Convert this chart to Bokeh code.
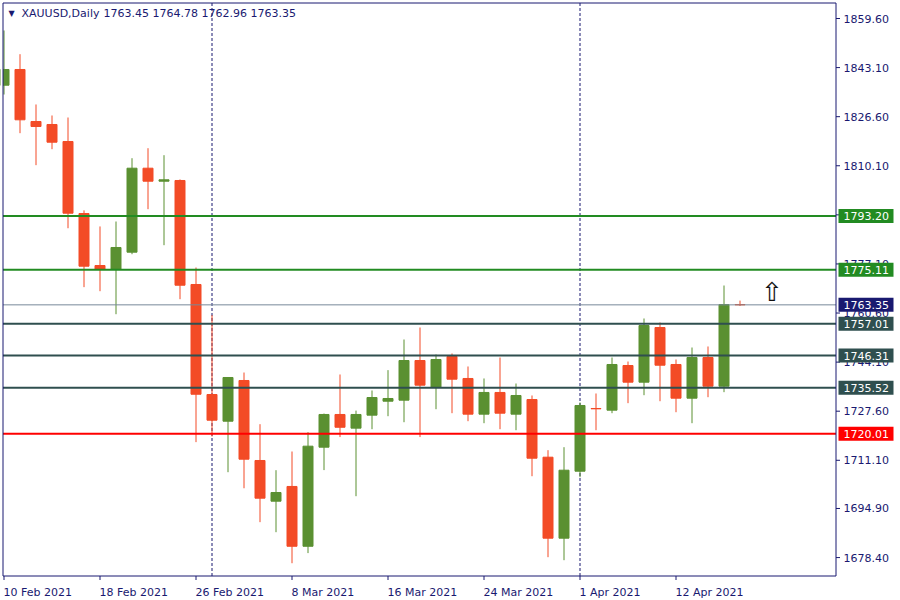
from bokeh.plotting import figure
from bokeh.models import ColumnDataSource, Range1d
from bokeh.core.properties import value
from bokeh.embed import file_html
from bokeh.resources import INLINE

# ---------------- data ----------------
OPEN = [1837.18, 1842.46, 1824.98, 1823.97, 1818.26, 1794.05, 1776.57, 1775.33, 1781.05, 1809.28,
        1804.91, 1805.15, 1770.19, 1733.21, 1724.24, 1737.92, 1711.03, 1697.35, 1702.30, 1682.20,
        1715.50, 1726.50, 1721.90, 1726.26, 1730.96, 1731.30, 1744.64, 1735.67, 1746.00, 1738.60,
        1726.60, 1733.90, 1726.60, 1731.53, 1712.14, 1684.91, 1707.43, 1728.51, 1727.94, 1742.96,
        1737.35, 1755.73, 1743.30, 1731.97, 1745.65, 1736.00, 1763.45]
HIGH = [1855.57, 1847.60, 1830.70, 1827.00, 1826.32, 1795.10, 1789.70, 1791.36, 1812.64, 1816.00,
        1813.65, 1805.50, 1775.90, 1759.87, 1738.93, 1740.60, 1723.23, 1707.77, 1714.05, 1720.54,
        1726.80, 1739.94, 1727.80, 1734.56, 1741.40, 1751.70, 1755.73, 1746.66, 1747.00, 1742.63,
        1738.60, 1745.65, 1736.91, 1732.88, 1714.50, 1715.50, 1730.52, 1733.55, 1745.65, 1744.30,
        1758.76, 1757.42, 1744.98, 1749.01, 1749.35, 1769.85, 1764.78]
LOW = [1834.05, 1821.05, 1810.30, 1815.67, 1789.10, 1769.30, 1767.94, 1760.20, 1780.37, 1795.50,
       1783.40, 1765.25, 1717.20, 1719.10, 1707.10, 1701.70, 1690.30, 1686.93, 1676.50, 1679.90,
       1707.80, 1718.90, 1699.03, 1721.55, 1725.92, 1723.90, 1718.90, 1728.27, 1726.93, 1724.24,
       1723.57, 1721.55, 1721.21, 1705.75, 1678.53, 1677.52, 1705.42, 1721.21, 1726.93, 1730.30,
       1732.98, 1730.96, 1727.26, 1723.57, 1732.31, 1734.00, 1762.96]
CLOSE = [1842.46, 1825.55, 1823.30, 1818.02, 1794.15, 1776.34, 1775.23, 1782.63, 1809.28, 1804.91,
         1805.38, 1769.95, 1733.30, 1724.57, 1738.93, 1711.47, 1698.36, 1700.27, 1682.20, 1715.84,
         1726.50, 1722.20, 1726.50, 1732.20, 1731.87, 1744.64, 1736.34, 1744.98, 1738.36, 1726.60,
         1733.90, 1726.93, 1732.88, 1711.80, 1684.91, 1707.77, 1729.52, 1728.40, 1743.30, 1737.35,
         1756.41, 1743.06, 1731.97, 1745.65, 1736.00, 1763.45, 1763.35]

DATE_TICKS = [0, 6, 12, 18, 24, 30, 36, 42]
DATE_LABELS = ["10 Feb 2021", "18 Feb 2021", "26 Feb 2021", "8 Mar 2021",
               "16 Mar 2021", "24 Mar 2021", "1 Apr 2021", "12 Apr 2021"]
MONTH_SEPARATORS = [13, 36]

PRICE_TICKS = [1859.60, 1843.10, 1826.60, 1810.10, 1793.60, 1777.10, 1760.60,
               1744.10, 1727.60, 1711.10, 1694.90, 1678.40]

LEVELS = [1793.20, 1775.11, 1757.01, 1746.31, 1735.52, 1720.01]
LEVEL_COLORS = ["#228B22", "#228B22", "#2F4F4F", "#2F4F4F", "#2F4F4F", "#FF0000"]
BID = 1763.35

SYMBOL = "XAUUSD,Daily"
HEADER_VALUES = "1763.45 1764.78 1762.96 1763.35"

ARROW_X = 48
ARROW_Y = 1767.5

# ---------------- style / layout (pixels) ----------------
NAVY = "#191970"
BULL = "#5A9031"
BEAR = "#F34B26"
BID_COLOR = "#778899"
FONT = value("DejaVu Sans")
FS = "11px"

W, H = 900, 600
PX_PER_BAR = 16.0
PX_PER_UNIT = 2.975
BAR0_PX = 3.5          # screen x of bar 0 centre
TICK0_PX = 18.0        # screen y of first price tick
CHART_L, CHART_T, CHART_R, CHART_B = 2.5, 2.5, 835.5, 575.5

X0 = -BAR0_PX / PX_PER_BAR
X1 = X0 + W / PX_PER_BAR
Y_TOP = PRICE_TICKS[0] + TICK0_PX / PX_PER_UNIT
Y_BOT = Y_TOP - H / PX_PER_UNIT


def px_x(sx):
    return X0 + sx / PX_PER_BAR


def px_y(sy):
    return Y_TOP - sy / PX_PER_UNIT


p = figure(width=W, height=H, output_backend="svg", toolbar_location=None,
           x_range=Range1d(X0, X1), y_range=Range1d(Y_BOT, Y_TOP),
           x_axis_location=None, y_axis_location=None, min_border=0)
p.outline_line_color = None
p.background_fill_color = "white"
p.border_fill_color = "white"
for g in p.grid:
    g.visible = False

xl, xr = px_x(CHART_L), px_x(CHART_R)
yt, yb = px_y(CHART_T), px_y(CHART_B)

# month separators
p.segment(x0=MONTH_SEPARATORS, x1=MONTH_SEPARATORS, y0=[yb] * len(MONTH_SEPARATORS),
          y1=[yt] * len(MONTH_SEPARATORS), line_color=NAVY, line_width=1, line_dash="3 2")

# candles
n = len(OPEN)
colors = [BULL if c >= o else BEAR for o, c in zip(OPEN, CLOSE)]
src = ColumnDataSource(dict(
    x=list(range(n)), o=OPEN, h=HIGH, l=LOW, c=CLOSE,
    top=[max(o, c) for o, c in zip(OPEN, CLOSE)],
    bottom=[min(o, c) for o, c in zip(OPEN, CLOSE)],
    color=colors))
p.segment(x0="x", y0="l", x1="x", y1="h", line_color="color", line_width=1, source=src)
p.vbar(x="x", width=10 / PX_PER_BAR, top="top", bottom="bottom",
       fill_color="color", line_color="color", line_width=1, source=src)

# horizontal levels (stop at the price scale)
p.segment(x0=[xl], x1=[xr], y0=[BID], y1=[BID], line_color=BID_COLOR, line_width=1)
p.segment(x0=[xl] * len(LEVELS), x1=[xr] * len(LEVELS), y0=LEVELS, y1=LEVELS,
          line_color=LEVEL_COLORS, line_width=2)

# arrow object
p.text(x=[ARROW_X], y=[ARROW_Y], text=["\u21e7"], text_font=FONT,
       text_font_size="26px", text_align="center", text_baseline="middle",
       text_color="#111111")

# mask left of the chart border, then chart border
p.quad(left=[px_x(0)], right=[xl], top=[px_y(0)], bottom=[px_y(H)],
       fill_color="white", line_color=None)
p.quad(left=[xl], right=[xr], top=[yt], bottom=[yb], fill_color=None,
       line_color=NAVY, line_width=1)

# price scale: ticks + labels
tick_x1 = px_x(CHART_R + 4)
p.segment(x0=[xr] * len(PRICE_TICKS), x1=[tick_x1] * len(PRICE_TICKS),
          y0=PRICE_TICKS, y1=PRICE_TICKS, line_color=NAVY, line_width=1)
p.text(x=[px_x(843)] * len(PRICE_TICKS), y=PRICE_TICKS,
       text=[f"{t:.2f}" for t in PRICE_TICKS], text_font=FONT, text_font_size=FS,
       text_color=NAVY, text_align="left", text_baseline="middle")

# price boxes
box_vals = [BID] + LEVELS
box_cols = [NAVY] + LEVEL_COLORS
p.rect(x=[px_x(865.5)] * len(box_vals), y=box_vals, width=55, height=14,
       width_units="screen", height_units="screen",
       fill_color=box_cols, line_color=None)
p.text(x=[px_x(843)] * len(box_vals), y=box_vals,
       text=[f"{v:.2f}" for v in box_vals], text_font=FONT, text_font_size=FS,
       text_color="white", text_align="left", text_baseline="middle")

# time scale: ticks + labels
p.segment(x0=DATE_TICKS, x1=DATE_TICKS, y0=[yb] * len(DATE_TICKS),
          y1=[px_y(CHART_B + 4)] * len(DATE_TICKS), line_color=NAVY, line_width=1)
p.text(x=DATE_TICKS, y=[px_y(591.5)] * len(DATE_TICKS), text=DATE_LABELS,
       text_font=FONT, text_font_size=FS, text_color=NAVY,
       text_align="left", text_baseline="alphabetic", x_offset=-0.5)

# header
p.text(x=[px_x(11)], y=[px_y(12.5)], text=["\u25bc"], text_font=FONT,
       text_font_size="8px", text_color=NAVY, text_align="center", text_baseline="middle")
p.text(x=[px_x(21)], y=[px_y(12.5)], text=[SYMBOL], text_font=FONT,
       text_font_size=FS, text_color=NAVY, text_align="left", text_baseline="middle")
p.text(x=[px_x(103)], y=[px_y(12.5)], text=[HEADER_VALUES], text_font=FONT,
       text_font_size=FS, text_color=NAVY, text_align="left", text_baseline="middle")

open("out.html", "w").write(file_html(p, INLINE))
